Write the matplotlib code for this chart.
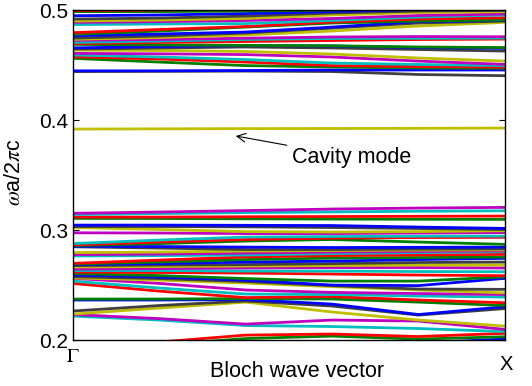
import matplotlib
matplotlib.use('Agg')
import matplotlib.pyplot as plt
from matplotlib.transforms import ScaledTranslation

# k-points from Gamma (0) to X (1)
k_points = [0.0, 0.2, 0.4, 0.6, 0.8, 1.0]

# bands below the gap, lowest first (omega a / 2 pi c)
lower_bands = [
    [0.1864, 0.1891, 0.1918, 0.1945, 0.1973, 0.2009],
    [0.1909, 0.1955, 0.2014, 0.2036, 0.2009, 0.2030],
    [0.1927, 0.1982, 0.2045, 0.2055, 0.2032, 0.2061],
    [0.2218, 0.2182, 0.2132, 0.2123, 0.2105, 0.2077],
    [0.2232, 0.2195, 0.2145, 0.2182, 0.2173, 0.2097],
    [0.2236, 0.2291, 0.2345, 0.2255, 0.2182, 0.2127],
    [0.2264, 0.2314, 0.2355, 0.2309, 0.2227, 0.2286],
    [0.2364, 0.2364, 0.2368, 0.2327, 0.2232, 0.2303],
    [0.2373, 0.2373, 0.2377, 0.2373, 0.2345, 0.2314],
    [0.2515, 0.2445, 0.2386, 0.2395, 0.2364, 0.2339],
    [0.2536, 0.2473, 0.2418, 0.2414, 0.2400, 0.2391],
    [0.2561, 0.2515, 0.2455, 0.2433, 0.2423, 0.2414],
    [0.2565, 0.2545, 0.2518, 0.2486, 0.2455, 0.2429],
    [0.2576, 0.2559, 0.2532, 0.2495, 0.2464, 0.2461],
    [0.2591, 0.2573, 0.2545, 0.2500, 0.2495, 0.2561],
    [0.2605, 0.2586, 0.2559, 0.2536, 0.2536, 0.2575],
    [0.2618, 0.2614, 0.2609, 0.2600, 0.2591, 0.2585],
    [0.2632, 0.2632, 0.2627, 0.2627, 0.2623, 0.2621],
    [0.2645, 0.2650, 0.2655, 0.2659, 0.2659, 0.2655],
    [0.2664, 0.2668, 0.2673, 0.2677, 0.2682, 0.2682],
    [0.2677, 0.2682, 0.2686, 0.2695, 0.2705, 0.2709],
    [0.2686, 0.2695, 0.2709, 0.2718, 0.2732, 0.2743],
    [0.2691, 0.2709, 0.2732, 0.2745, 0.2750, 0.2755],
    [0.2697, 0.2727, 0.2755, 0.2768, 0.2773, 0.2779],
    [0.2764, 0.2768, 0.2773, 0.2786, 0.2795, 0.2803],
    [0.2777, 0.2782, 0.2791, 0.2800, 0.2806, 0.2811],
    [0.2795, 0.2800, 0.2809, 0.2814, 0.2818, 0.2820],
    [0.2848, 0.2836, 0.2823, 0.2823, 0.2827, 0.2829],
    [0.2853, 0.2850, 0.2845, 0.2841, 0.2843, 0.2845],
    [0.2859, 0.2877, 0.2900, 0.2914, 0.2891, 0.2870],
    [0.2865, 0.2891, 0.2914, 0.2927, 0.2932, 0.2934],
    [0.2877, 0.2909, 0.2936, 0.2941, 0.2944, 0.2945],
    [0.2975, 0.2973, 0.2968, 0.2968, 0.2973, 0.2977],
    [0.3023, 0.3005, 0.2986, 0.2982, 0.2986, 0.2994],
    [0.3032, 0.3032, 0.3029, 0.3023, 0.3014, 0.3005],
    [0.3045, 0.3045, 0.3043, 0.3041, 0.3027, 0.3015],
    [0.3106, 0.3105, 0.3102, 0.3100, 0.3098, 0.3097],
    [0.3118, 0.3118, 0.3121, 0.3123, 0.3125, 0.3127],
    [0.3141, 0.3150, 0.3159, 0.3165, 0.3171, 0.3175],
    [0.3152, 0.3164, 0.3177, 0.3191, 0.3200, 0.3206],
]

# defect (cavity) band inside the gap
cavity_band = [0.3918, 0.3920, 0.3922, 0.3923, 0.3925, 0.3927]

# bands above the gap
upper_bands = [
    [0.4441, 0.4443, 0.4445, 0.4441, 0.4414, 0.4403],
    [0.4447, 0.4447, 0.4450, 0.4455, 0.4455, 0.4455],
    [0.4561, 0.4527, 0.4495, 0.4482, 0.4473, 0.4470],
    [0.4575, 0.4555, 0.4527, 0.4495, 0.4486, 0.4480],
    [0.4591, 0.4573, 0.4550, 0.4518, 0.4505, 0.4495],
    [0.4606, 0.4602, 0.4595, 0.4573, 0.4536, 0.4506],
    [0.4636, 0.4632, 0.4623, 0.4600, 0.4564, 0.4536],
    [0.4645, 0.4655, 0.4664, 0.4655, 0.4641, 0.4627],
    [0.4656, 0.4668, 0.4677, 0.4673, 0.4659, 0.4652],
    [0.4688, 0.4682, 0.4679, 0.4675, 0.4664, 0.4659],
    [0.4695, 0.4705, 0.4714, 0.4723, 0.4732, 0.4736],
    [0.4706, 0.4718, 0.4732, 0.4741, 0.4743, 0.4745],
    [0.4725, 0.4732, 0.4744, 0.4755, 0.4759, 0.4757],
    [0.4734, 0.4750, 0.4773, 0.4809, 0.4855, 0.4888],
    [0.4745, 0.4764, 0.4791, 0.4836, 0.4882, 0.4900],
    [0.4766, 0.4782, 0.4800, 0.4845, 0.4895, 0.4905],
    [0.4779, 0.4809, 0.4845, 0.4882, 0.4900, 0.4909],
    [0.4794, 0.4823, 0.4850, 0.4891, 0.4918, 0.4930],
    [0.4868, 0.4873, 0.4877, 0.4905, 0.4936, 0.4955],
    [0.4888, 0.4895, 0.4905, 0.4923, 0.4950, 0.4964],
    [0.4900, 0.4909, 0.4923, 0.4955, 0.4977, 0.4985],
    [0.4918, 0.4927, 0.4945, 0.4973, 0.4991, 0.4997],
    [0.4948, 0.4955, 0.4968, 0.4986, 0.5005, 0.5009],
    [0.4985, 0.4986, 0.4991, 0.5000, 0.5014, 0.5018],
    [0.4994, 0.5000, 0.5009, 0.5018, 0.5027, 0.5036],
]

x_tick_labels = [r'$\Gamma$', 'X']
y_ticks = [0.2, 0.3, 0.4, 0.5]

# old matlab line colour order b g r c m y k
line_colors = [(0, 0, 1), (0, 0.5, 0), (1, 0, 0), (0, 0.75, 0.75),
               (0.75, 0, 0.75), (0.75, 0.75, 0), (0.25, 0.25, 0.25)]

plt.rcParams['font.family'] = ['Liberation Sans', 'DejaVu Sans']
plt.rcParams['mathtext.fontset'] = 'stix'

fig = plt.figure(figsize=(5.32, 3.86), dpi=100)
ax = fig.add_axes([0.137, 0.119, 0.812, 0.855])

all_bands = lower_bands + [cavity_band] + upper_bands
for i, band in enumerate(all_bands):
    ax.plot(k_points, band, color=line_colors[i % 7], lw=2.0,
            solid_joinstyle='miter')

ax.set_xlim(0, 1)
ax.set_ylim(0.2, 0.5)
ax.set_yticks(y_ticks)
ax.set_yticklabels(['0.2', '0.3', '0.4', '0.5'], fontsize=15)
ax.set_xticks([0, 1])
ax.set_xticklabels(x_tick_labels, fontsize=14.5)
ax.tick_params(axis='y', direction='in', length=4, right=True, pad=3.5)
ax.tick_params(axis='x', length=0, pad=5)
# X sits a little lower than Gamma
xl = ax.get_xticklabels()
xl[1].set_transform(xl[1].get_transform() +
                    ScaledTranslation(1 / 72, -6 / 72, fig.dpi_scale_trans))
for sp in ax.spines.values():
    sp.set_linewidth(1.0)

ax.set_xlabel('Bloch wave vector', fontsize=15.5)
ax.xaxis.set_label_coords(0.519, -0.062)
ax.set_ylabel(r'$\omega$a/2$\pi$c', fontsize=15.5)
ax.yaxis.set_label_coords(-0.112, 0.51)

ax.annotate('Cavity mode', xy=(0.377, 0.3855), xytext=(0.508, 0.3664),
            fontsize=15.5, va='center', ha='left',
            arrowprops=dict(arrowstyle='->', color='black', lw=0.8,
                            shrinkA=2, shrinkB=0))

fig.savefig('out.png', dpi=100)
